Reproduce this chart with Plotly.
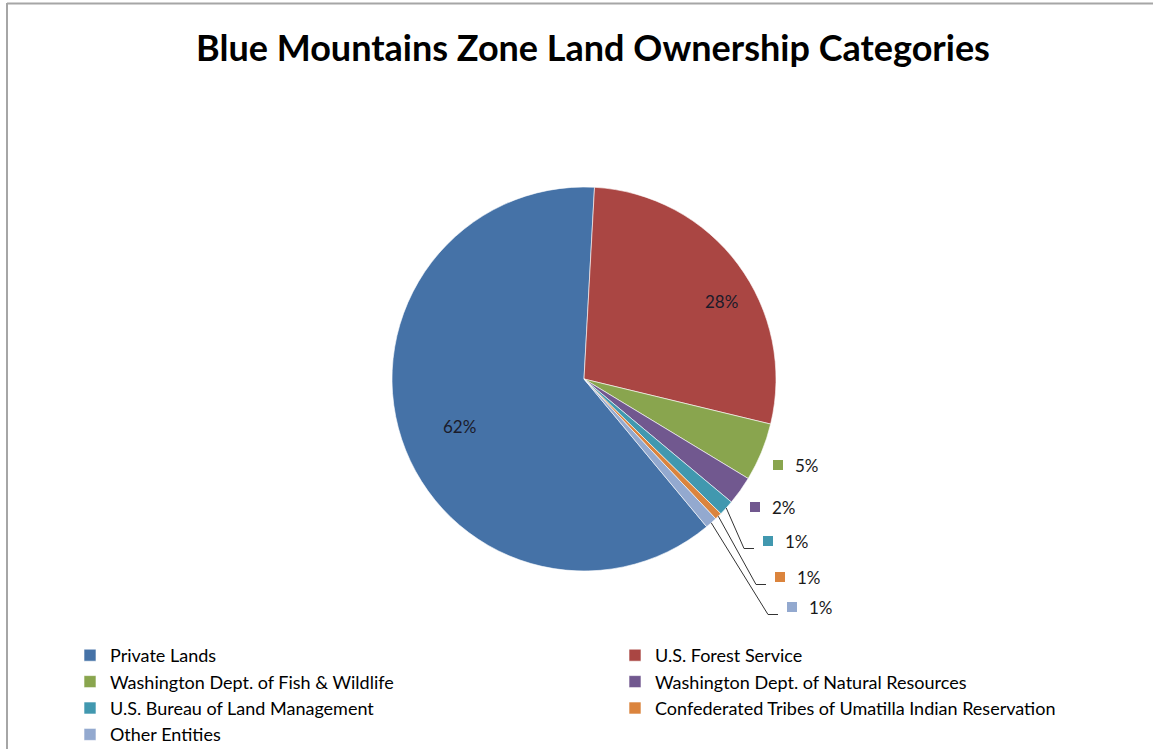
import math
import plotly.graph_objects as go

# Land ownership shares (percent of zone area)
owners = [
    "Private Lands",
    "U.S. Forest Service",
    "Washington Dept. of Fish & Wildlife",
    "Washington Dept. of Natural Resources",
    "U.S. Bureau of Land Management",
    "Confederated Tribes of Umatilla Indian Reservation",
    "Other Entities",
]
shares = [61.9, 27.9, 4.9, 2.4, 1.3, 0.6, 1.0]
colors = ["#4572A7", "#AA4643", "#89A54E", "#71588F", "#4198AF", "#DB843D", "#93A9CF"]

# canvas and pie geometry (pixels)
W, H = 1153, 749
cx, cy, r = 584, 379, 192
start_angle = 140.3  # degrees clockwise from 12 o'clock

# label placement: inside labels are centred; outside labels give the key square's left edge
inside_pos = {0: (459, 427), 1: (721, 302)}
outside_pos = {2: (773, 465), 3: (750, 507), 4: (763, 541), 5: (775, 577), 6: (787, 607)}
leader_for = [4, 5, 6]


def px(x):
    return x / W


def py(y):
    return 1 - y / H


fig = go.Figure(
    go.Pie(
        labels=owners,
        values=shares,
        sort=False,
        direction="clockwise",
        rotation=start_angle,
        marker=dict(colors=colors, line=dict(color="white", width=0.6)),
        textinfo="none",
        domain=dict(x=[px(cx - r), px(cx + r)], y=[py(cy + r), py(cy - r)]),
        hoverinfo="label+percent",
    )
)

total = sum(shares)
annotations = []
shapes = []

# mid-angle of each slice, derived from the shares
mid_angles = []
acc = start_angle
for s in shares:
    span = 360 * s / total
    mid_angles.append(acc + span / 2)
    acc += span

for i, s in enumerate(shares):
    label = f"{round(100 * s / total)}%"
    if i in inside_pos:
        x, y = inside_pos[i]
        annotations.append(dict(
            x=px(x), y=py(y), xref="paper", yref="paper", text=label, showarrow=False,
            xanchor="center", yanchor="middle",
            font=dict(family="Lato", size=17, color="#1b1b2a"),
        ))
    elif i in outside_pos:
        lx, ly = outside_pos[i]
        # legend key square next to the value
        shapes.append(dict(
            type="rect", xref="paper", yref="paper",
            x0=px(lx), x1=px(lx + 10), y0=py(ly + 5), y1=py(ly - 5),
            fillcolor=colors[i], line=dict(width=0),
        ))
        annotations.append(dict(
            x=px(lx + 20), y=py(ly), xref="paper", yref="paper", text=label, showarrow=False,
            xanchor="left", yanchor="middle",
            font=dict(family="Lato", size=17, color="#1a1a1a"),
        ))
        if i in leader_for:
            a = math.radians(mid_angles[i])
            ex, ey = cx + r * math.sin(a), cy - r * math.cos(a)
            path = (f"M {px(ex)} {py(ey)} L {px(lx - 19)} {py(ly + 7.5)} "
                    f"L {px(lx - 9)} {py(ly + 7.5)}")
            shapes.append(dict(type="path", xref="paper", yref="paper", path=path,
                               line=dict(color="#333333", width=1)))

# chart frame (top and left edges)
shapes += [
    dict(type="line", xref="paper", yref="paper", x0=px(7), x1=1, y0=py(3.5), y1=py(3.5),
         line=dict(color="#a6a6a6", width=2)),
    dict(type="line", xref="paper", yref="paper", x0=px(7), x1=px(7), y0=0, y1=py(3),
         line=dict(color="#a6a6a6", width=2)),
]

fig.update_layout(
    width=W,
    height=H,
    margin=dict(l=0, r=0, t=0, b=0, autoexpand=False),
    paper_bgcolor="white",
    title=dict(
        text="<b>Blue Mountains Zone Land Ownership Categories</b>",
        font=dict(family="Lato", size=36, color="black"),
        x=px(593),
        xanchor="center",
        y=py(48),
        yanchor="middle",
    ),
    legend=dict(
        orientation="h",
        x=px(70),
        xanchor="left",
        y=py(637),
        yanchor="top",
        entrywidth=500,
        entrywidthmode="pixels",
        font=dict(family="Lato", size=18, color="black"),
        itemwidth=30,
        tracegroupgap=0,
    ),
    annotations=annotations,
    shapes=shapes,
)

fig.write_html("out.html")
